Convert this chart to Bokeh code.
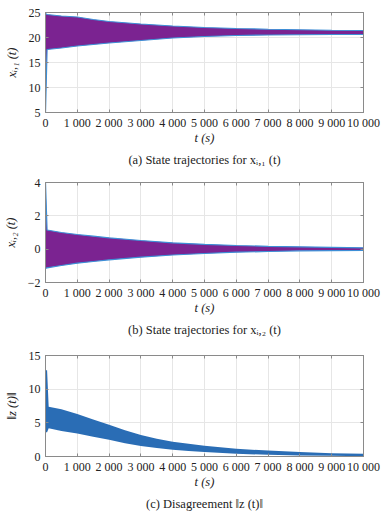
from bokeh.plotting import figure
from bokeh.models import FixedTicker, ColumnDataSource, Range1d, LinearAxis
from bokeh.layouts import column
from bokeh.embed import file_html
from bokeh.resources import INLINE

# ---- data ----
x_ticks = [0, 1000, 2000, 3000, 4000, 5000, 6000, 7000, 8000, 9000, 10000]
x_tick_labels = ["0", "1 000", "2 000", "3 000", "4 000", "5 000", "6 000",
                 "7 000", "8 000", "9 000", "10 000"]

# (a) envelope of x_{i,1}(t)
t_a = [0, 50, 500, 1000, 1500, 2000, 3000, 4000, 5000, 6000, 7000, 8000, 9000, 10000]
upper_a = [24.8, 24.6, 24.3, 24.1, 23.6, 23.2, 22.7, 22.3, 22.0, 21.8, 21.65, 21.55, 21.45, 21.4]
lower_a = [5.0, 17.6, 17.9, 18.3, 18.6, 18.9, 19.4, 19.9, 20.2, 20.4, 20.5, 20.55, 20.6, 20.6]
y_ticks_a = [5, 10, 15, 20, 25]
y_labels_a = ["5", "10", "15", "20", "25"]

# (b) envelope of x_{i,2}(t)
t_b = [0, 50, 500, 1000, 1500, 2000, 3000, 4000, 5000, 6000, 7000, 8000, 9000, 10000]
upper_b = [4.0, 1.15, 1.0, 0.88, 0.78, 0.68, 0.52, 0.38, 0.29, 0.22, 0.17, 0.14, 0.11, 0.08]
lower_b = [-1.15, -1.12, -0.98, -0.84, -0.74, -0.64, -0.48, -0.35, -0.26, -0.18, -0.14, -0.10, -0.09, -0.08]
y_ticks_b = [-2, 0, 2, 4]
y_labels_b = ["\u22122", "0", "2", "4"]

# (c) envelope of ||z(t)||
t_c = [0, 50, 100, 500, 1000, 1500, 2000, 2500, 3000, 3500, 4000, 4500, 5000,
       6000, 7000, 8000, 9000, 10000]
upper_c = [12.8, 12.8, 7.4, 7.0, 6.3, 5.5, 4.7, 3.9, 3.2, 2.65, 2.2, 1.88, 1.6,
           1.15, 0.88, 0.65, 0.5, 0.4]
lower_c = [3.6, 3.6, 4.2, 3.8, 3.4, 2.95, 2.5, 1.95, 1.55, 1.25, 1.0, 0.8, 0.65,
           0.4, 0.25, 0.15, 0.1, 0.03]
y_ticks_c = [0, 5, 10, 15]
y_labels_c = ["0", "5", "10", "15"]

FONT = "Liberation Serif"
PURPLE = "#7B2391"
EDGE = "#3d8fd6"
BLUE = "#2a6db5"
FRAME = "#8a8a8a"
TEXT = "#222222"


def box_axis(ticker):
    # unlabeled axis that only draws inward ticks on the top / right edge
    return LinearAxis(ticker=ticker, axis_line_color=FRAME,
                      major_tick_line_color=FRAME, major_tick_in=3, major_tick_out=0,
                      minor_tick_line_color=None, major_label_standoff=0,
                      major_label_text_font_size="1px", major_label_text_color=None)


def make_fig(t, up, lo, yr, yticks, ylabels, ylabel, caption, fill, edge,
             height, top, bottom):
    p = figure(width=388, height=height, output_backend="svg", toolbar_location=None,
               x_range=Range1d(0, 10000), y_range=Range1d(*yr),
               min_border_left=43, min_border_right=25,
               min_border_top=top, min_border_bottom=bottom)
    src = ColumnDataSource(dict(t=t, up=up, lo=lo))
    p.varea(x="t", y1="lo", y2="up", source=src, fill_color=fill)
    if edge is not None:
        p.line(x="t", y="up", source=src, line_color=edge, line_width=1.2)
        p.line(x="t", y="lo", source=src, line_color=edge, line_width=1.2)

    p.outline_line_color = FRAME
    p.outline_line_width = 1
    for ax in (p.xaxis[0], p.yaxis[0]):
        ax.axis_line_color = FRAME
        ax.major_tick_line_color = FRAME
        ax.major_tick_in = 3
        ax.major_tick_out = 0
        ax.minor_tick_line_color = None
        ax.major_label_text_font = FONT
        ax.major_label_text_font_size = "12px"
        ax.major_label_text_color = TEXT
        ax.axis_label_text_font = FONT
        ax.axis_label_text_font_size = "12.5px"
        ax.axis_label_text_font_style = "italic"
        ax.axis_label_text_color = TEXT
    xt = FixedTicker(ticks=x_ticks)
    yt = FixedTicker(ticks=yticks)
    p.xaxis.ticker = xt
    p.xaxis.major_label_overrides = {v: s for v, s in zip(x_ticks, x_tick_labels)}
    p.xaxis.major_label_standoff = 3
    p.xaxis.axis_label = "t (s)"
    p.xaxis.axis_label_standoff = -2
    p.yaxis.ticker = yt
    p.yaxis.major_label_overrides = {v: s for v, s in zip(yticks, ylabels)}
    p.yaxis.major_label_standoff = 5
    p.yaxis.axis_label = ylabel
    p.yaxis.axis_label_standoff = 7
    p.xgrid.grid_line_color = "#e6e6e6"
    p.ygrid.grid_line_color = "#e6e6e6"

    p.add_layout(box_axis(FixedTicker(ticks=x_ticks)), "above")
    p.add_layout(box_axis(FixedTicker(ticks=yticks)), "right")

    cap = LinearAxis(ticker=FixedTicker(ticks=[]), axis_line_color=None,
                     major_tick_line_color=None, minor_tick_line_color=None,
                     axis_label=caption, axis_label_standoff=5,
                     axis_label_text_font=FONT, axis_label_text_font_size="12.5px",
                     axis_label_text_font_style="normal", axis_label_text_color=TEXT)
    p.add_layout(cap, "below")
    return p


pa = make_fig(t_a, upper_a, lower_a, (5, 25), y_ticks_a, y_labels_a,
              "x\u1d62,\u2081 (t)", "(a) State trajectories for x\u1d62,\u2081 (t)",
              PURPLE, EDGE, 170, 12, 58)
pb = make_fig(t_b, upper_b, lower_b, (-2, 4), y_ticks_b, y_labels_b,
              "x\u1d62,\u2082 (t)", "(b) State trajectories for x\u1d62,\u2082 (t)",
              PURPLE, EDGE, 170, 12, 58)
pc = make_fig(t_c, upper_c, lower_c, (0, 15), y_ticks_c, y_labels_c,
              "\u2016z (t)\u2016", "(c) Disagreement \u2016z (t)\u2016",
              BLUE, None, 174, 15, 58)

layout = column(pa, pb, pc, spacing=0)
open("out.html", "w").write(file_html(layout, INLINE))
